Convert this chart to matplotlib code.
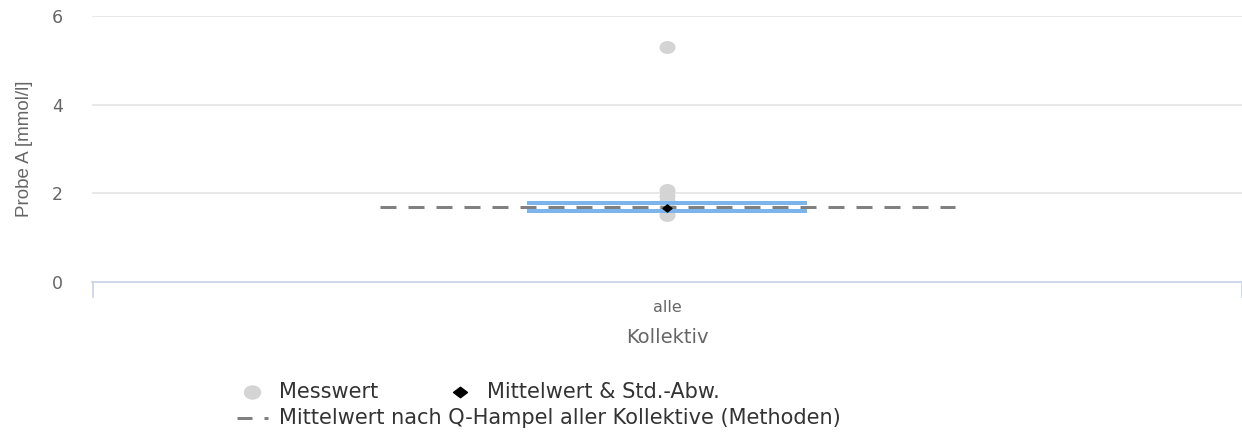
import matplotlib
matplotlib.use("Agg")
import numpy as np
import matplotlib.pyplot as plt
from matplotlib.lines import Line2D
from matplotlib.path import Path
from matplotlib.transforms import Affine2D

plt.rcParams['font.family'] = ['DejaVu Sans']

categories = ["alle"]
messwerte = [5.3, 2.08, 1.95, 1.82, 1.7, 1.6, 1.52]
mittelwert = 1.68
std_lower = 1.6
std_upper = 1.79
hampel_mean = 1.69
y_ticks = [0, 2, 4, 6]

W, H = 1242, 432
PX = 72 / 100  # points per pixel
fig = plt.figure(figsize=(W / 100, H / 100), dpi=100)
AX_L, AX_R, AX_T, AX_B = 92, 1242, 16, 282
ax = fig.add_axes([AX_L / W, 1 - AX_B / H, (AX_R - AX_L) / W, (AX_B - AX_T) / H])

ax.set_xlim(-0.5, 0.5)
ax.set_ylim(0, 6)

# custom markers (slightly wide shapes)
ellipse = Path.unit_circle().transformed(Affine2D().scale(1.0, 13 / 16))
def make_diamond(h):
    return Path([(0, h), (1, 0), (0, -h), (-1, 0), (0, h)],
                [Path.MOVETO, Path.LINETO, Path.LINETO, Path.LINETO, Path.CLOSEPOLY])
diamond_plot = make_diamond(0.8)
diamond_leg = make_diamond(0.75)

for t in y_ticks[1:]:
    ax.axhline(t, color='#e6e6e6', lw=1.3, zorder=0)

x0 = 0
ax.scatter([x0] * len(messwerte), messwerte, s=(16 * PX) ** 2, marker=ellipse,
           color='#d4d4d4', zorder=2, linewidths=0)
ax.plot([x0 - 0.25, x0 + 0.25], [hampel_mean, hampel_mean], color='#808080',
        lw=3 * PX, dashes=(16 / 3, 12 / 3), zorder=3)
ax.plot([x0 - 0.1196, x0 + 0.1196], [std_upper, std_upper], color='#7cb5ec', lw=4 * PX, zorder=4)
ax.plot([x0 - 0.1196, x0 + 0.1196], [std_lower, std_lower], color='#7cb5ec', lw=4 * PX, zorder=4)
ax.plot([x0], [mittelwert], marker=diamond_plot, color='black', ms=9 * PX, lw=0, zorder=5)

ax.set_xticks([x0])
ax.set_xticklabels(categories)
ax.set_yticks(y_ticks)
for s in ['top', 'right', 'left']:
    ax.spines[s].set_visible(False)
ax.spines['bottom'].set_color('#ccd6eb')
ax.spines['bottom'].set_linewidth(1.3)
ax.tick_params(axis='y', length=0, pad=29 * PX, labelsize=12.5, labelcolor='#666666')
ax.tick_params(axis='x', length=0, pad=18 * PX, labelsize=11.5, labelcolor='#666666')
ax.set_xlabel("Kollektiv", fontsize=14, color='#666666')
ax.xaxis.set_label_coords(0.5, -(328 - AX_B) / (AX_B - AX_T))
ax.set_ylabel("Probe A [mmol/l]", fontsize=13.5, color='#666666', family='Liberation Sans')
ax.yaxis.set_label_coords((33 - AX_L) / (AX_R - AX_L), 0.5)

# category boundary ticks
for xp in (92.5, 1241.5):
    fig.add_artist(Line2D([xp / W, xp / W], [1 - AX_B / H, 1 - 297 / H], color='#ccd6eb', lw=1.3))

# legend
fs = 15
r1, r2 = 1 - 392 / H, 1 - 418 / H
fig.add_artist(Line2D([252 / W], [r1], marker=ellipse, ms=16 * PX, color='#d4d4d4', lw=0))
fig.text(279 / W, r1, "Messwert", fontsize=fs, color='#333333', va='center')
fig.add_artist(Line2D([459.5 / W], [r1], marker=diamond_leg, ms=14 * PX, color='black', lw=0))
fig.text(487 / W, r1, "Mittelwert & Std.-Abw.", fontsize=fs, color='#333333', va='center')
fig.add_artist(Line2D([237 / W, 268 / W], [r2, r2], color='#808080', lw=3 * PX,
                      dashes=(15 / 3, 12 / 3)))
fig.text(279 / W, r2, "Mittelwert nach Q-Hampel aller Kollektive (Methoden)",
         fontsize=fs, color='#333333', va='center')

fig.savefig("out.png", dpi=100)
